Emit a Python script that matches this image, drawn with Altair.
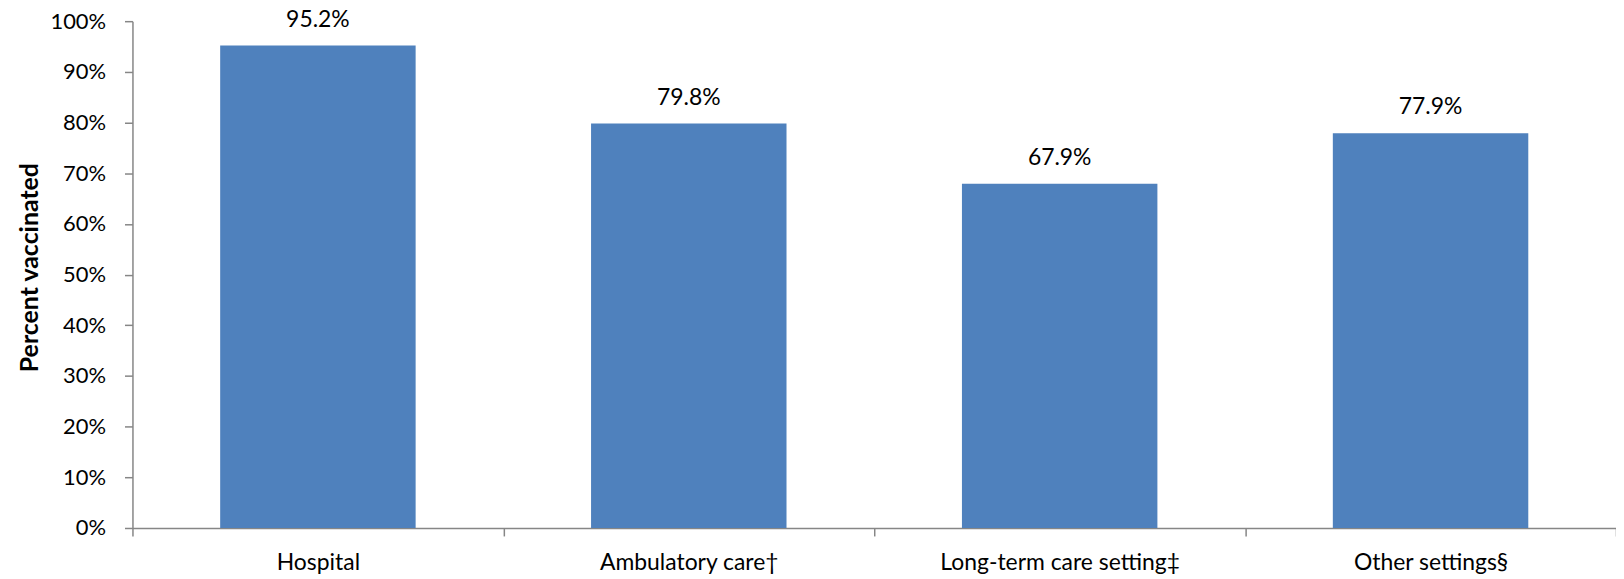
import altair as alt
import pandas as pd

categories = ["Hospital", "Ambulatory care\u2020", "Long-term care setting\u2021", "Other settings\u00a7"]
values = [95.2, 79.8, 67.9, 77.9]
y_ticks = [0, 0.1, 0.2, 0.3, 0.4, 0.5, 0.6, 0.7, 0.8, 0.9, 1.0]

df = pd.DataFrame({"setting": categories, "pct": [v / 100 for v in values]})

FONT = "Lato"
GRAY = "#868686"
BLUE = "#4F81BD"

x_enc = alt.X(
    "setting:N",
    sort=categories,
    scale=alt.Scale(paddingInner=0, paddingOuter=0),
    axis=alt.Axis(
        title=None,
        labelAngle=0,
        labelLimit=0,
        tickBand="extent",
        tickSize=8,
        tickColor=GRAY,
        tickWidth=1.5,
        domainColor=GRAY,
        domainWidth=1.5,
        labelFont=FONT,
        labelFontSize=23,
        labelColor="#000000",
        labelBaseline="alphabetic",
        labelPadding=34,
    ),
)

y_enc = alt.Y(
    "pct:Q",
    scale=alt.Scale(domain=[0, 1], nice=False, zero=True),
    axis=alt.Axis(
        title="Percent vaccinated",
        values=y_ticks,
        format=".0%",
        grid=False,
        tickSize=8,
        tickColor=GRAY,
        tickWidth=1.5,
        domainColor=GRAY,
        domainWidth=1.5,
        labelFont=FONT,
        labelFontSize=22,
        labelColor="#000000",
        labelPadding=19,
        titleFont=FONT,
        titleFontSize=25,
        titleFontWeight="bold",
        titleColor="#000000",
        titleAngle=270,
        titleX=-95,
        titleY=247,
        titleAlign="center",
        titleBaseline="alphabetic",
    ),
)

bars = alt.Chart(df).mark_bar(
    color=BLUE, width=alt.RelativeBandSize(0.527)
).encode(x=x_enc, y=y_enc)

labels = alt.Chart(df).mark_text(
    font=FONT, fontSize=23, color="#000000", baseline="alphabetic", dy=-19
).encode(
    x=alt.X("setting:N", sort=categories),
    y=alt.Y("pct:Q"),
    text=alt.Text("pct:Q", format=".1%"),
)

chart = (
    alt.layer(bars, labels)
    .properties(
        width=1490,
        height=509,
        padding={"left": 125, "top": 12, "right": 0, "bottom": 50},
        autosize=alt.AutoSizeParams(type="none"),
    )
    .configure_view(stroke=None)
)

chart.save("out.html", embed_options={"renderer": "svg", "actions": False})
